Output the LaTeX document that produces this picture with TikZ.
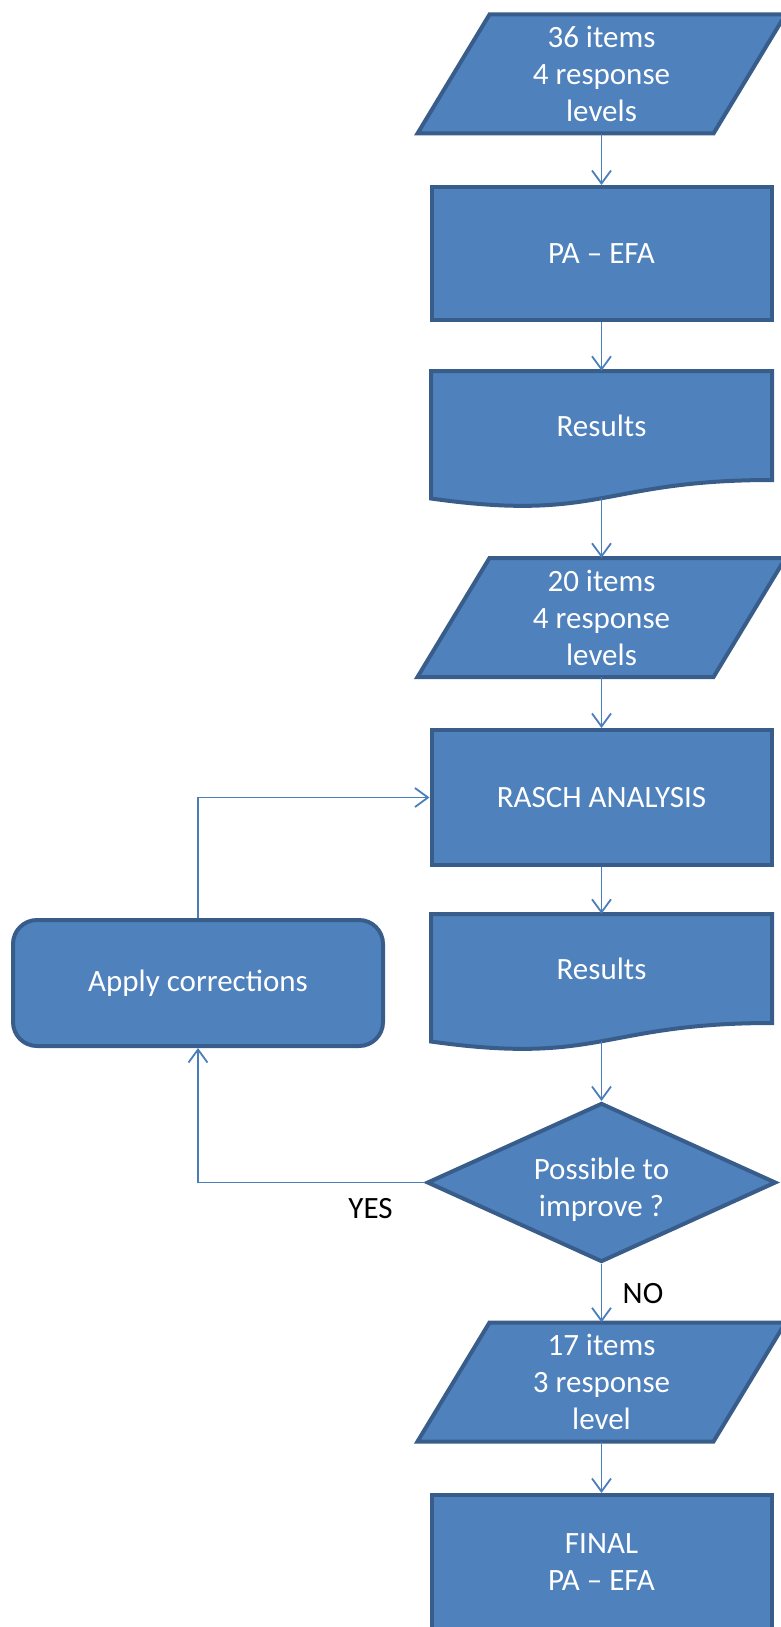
\documentclass[tikz,border=0pt]{standalone}
\usepackage{fontspec}
\setmainfont{Carlito}
\usetikzlibrary{arrows.meta,shapes.geometric,positioning}

\definecolor{boxfill}{HTML}{4F81BD}
\definecolor{boxline}{HTML}{385D8A}
\definecolor{linkcol}{HTML}{4A7EBB}

% data shape and document shape, drawn round a coordinate
\newcommand{\parashape}[1]{%
  \filldraw[blockline,shift={(#1)}] (-112,-59.5) -- (184,-59.5) -- (112,59.5) -- (-184,59.5) -- cycle;}
\newcommand{\docshape}[1]{%
  \filldraw[blockline,shift={(#1)}] (-170.5,-54.5) -- (170.5,-54.5) -- (170.5,54.5)
    .. controls (0,54.5) and (0,97) .. (-170.5,73) -- cycle;}

\begin{document}
\begin{tikzpicture}[x=1pt,y=-1pt]
	\tikzstyle{blockline}=[draw=boxline,fill=boxfill,line width=4pt]
	\tikzstyle{txt}=[text=white,align=center,font=\fontsize{31}{37}\selectfont]
	\tikzstyle{lbl}=[text=black,font=\fontsize{31}{37}\selectfont]
	\tikzstyle{proc}=[blockline,txt,rectangle,minimum width=340pt,minimum height=133pt]
	\tikzstyle{link}=[draw=linkcol,line width=1.8pt,-{Straight Barb[length=13pt,width=19pt]}]
	\useasboundingbox (0,0) rectangle (781,1627);

	\coordinate (c1) at (601.5,74); \parashape{c1}
	\node[txt,minimum width=220pt,minimum height=119pt] (in1) at (c1) {36 items\\4 response\\levels};
	\node[proc] (pa) at (601.5,253.5) {PA – EFA};
	\coordinate (c2) at (601.5,425.5); \docshape{c2}
	\node[txt,minimum width=300pt,minimum height=109pt] (res1) at (c2) {Results};
	\coordinate (res1b) at ([yshift=-18pt]res1.south);
	\coordinate (c3) at (601.5,617.5); \parashape{c3}
	\node[txt,minimum width=220pt,minimum height=119pt] (in2) at (c3) {20 items\\4 response\\levels};
	\node[proc,minimum height=135pt] (ra) at (601.5,797.5) {RASCH ANALYSIS};
	\coordinate (c4) at (601.5,968.5); \docshape{c4}
	\node[txt,minimum width=300pt,minimum height=109pt] (res2) at (c4) {Results};
	\coordinate (res2b) at ([yshift=-18pt]res2.south);
	\node[blockline,diamond,aspect=2.2,inner sep=0pt,minimum width=349pt,minimum height=159pt,
		label={[txt,yshift=-7pt]center:{Possible to\\improve ?}}] (dec) at (601.5,1182.5) {};
	\coordinate (c5) at (601.5,1382); \parashape{c5}
	\node[txt,minimum width=220pt,minimum height=119pt] (in3) at (c5) {17 items\\3 response\\level};
	\node[proc,minimum height=135pt] (fin) at (601.5,1562.5) {FINAL\\PA – EFA};
	\node[blockline,txt,rounded corners=24pt,minimum width=370pt,minimum height=126pt] (ap) at (198,983) {Apply corrections};

	\draw[link] (in1) -- (pa);
	\draw[link] (pa) -- (res1);
	\draw[link] (res1b) -- (in2);
	\draw[link] (in2) -- (ra);
	\draw[link] (ra) -- (res2);
	\draw[link] (res2b) -- (dec);
	\draw[link] (dec) -- node[lbl,right=17pt]{NO} (in3);
	\draw[link] (in3) -- (fin);
	\draw[link] (dec.west) -| node[lbl,pos=0.12,below=12pt]{YES} (ap.south);
	\draw[link] (ap.north) |- (ra.west);
\end{tikzpicture}
\end{document}
